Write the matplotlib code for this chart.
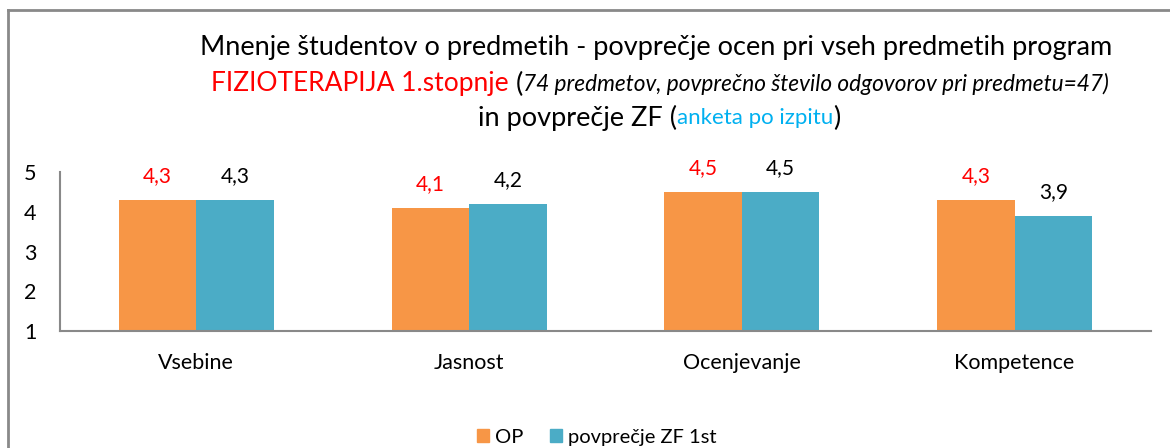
import matplotlib
matplotlib.use("Agg")
import matplotlib.pyplot as plt
import numpy as np
from matplotlib.lines import Line2D
from matplotlib.patches import Patch

# Podatki
kategorije = ["Vsebine", "Jasnost", "Ocenjevanje", "Kompetence"]
op = [4.3, 4.1, 4.5, 4.3]
zf = [4.3, 4.2, 4.5, 3.9]
serije = ["OP", "povprečje ZF 1st"]

ORANZNA = "#F79646"
MODRA = "#4BACC6"
SIVA = "#898989"

plt.rcParams["font.family"] = ["Lato", "DejaVu Sans"]

W, H = 1170, 448
fig = plt.figure(figsize=(W / 100, H / 100), dpi=100)


def fx(px):
    return px / W


def fy(py):
    return 1 - py / H


# okvir (zgoraj in levo)
fig.add_artist(Line2D([fx(8), fx(1170)], [fy(10), fy(10)], color=SIVA, lw=2))
fig.add_artist(Line2D([fx(8), fx(8)], [fy(10), fy(448)], color=SIVA, lw=2))

ax = fig.add_axes([fx(60), fy(331), fx(1151) - fx(60), fy(172) - fy(331)])

x = np.arange(len(kategorije))
w = 0.284
ax.bar(x - w / 2, np.array(op) - 1, w, bottom=1, color=ORANZNA, label=serije[0])
ax.bar(x + w / 2, np.array(zf) - 1, w, bottom=1, color=MODRA, label=serije[1])

for i in range(len(kategorije)):
    ax.annotate(f"{op[i]:.1f}".replace(".", ","), (x[i] - w / 2, op[i]),
                xytext=(0, 10), textcoords="offset points", ha="center",
                va="bottom", fontsize=15, color="red")
    ax.annotate(f"{zf[i]:.1f}".replace(".", ","), (x[i] + w / 2, zf[i]),
                xytext=(0, 10), textcoords="offset points", ha="center",
                va="bottom", fontsize=15, color="black")

ax.set_xlim(-0.5, 3.5)
ax.set_ylim(1, 5)
ax.set_yticks([1, 2, 3, 4, 5])
ax.set_xticks(x)
ax.set_xticklabels(kategorije)
ax.tick_params(axis="both", length=0, labelsize=15.5)
ax.tick_params(axis="y", pad=17)
ax.tick_params(axis="x", pad=16)
for s in ["top", "right"]:
    ax.spines[s].set_visible(False)
ax.spines["left"].set_color(SIVA)
ax.spines["bottom"].set_color(SIVA)
ax.spines["left"].set_linewidth(1.5)
ax.spines["bottom"].set_linewidth(1.5)

# naslov v več barvah
renderer = fig.canvas.get_renderer()


def vrstica(deli, cx, cy):
    teksti = []
    for besedilo, barva, velikost, stil in deli:
        t = fig.text(0, fy(cy), besedilo, color=barva, fontsize=velikost,
                     style=stil, va="center", ha="left")
        teksti.append(t)
    sirine = [t.get_window_extent(renderer).width for t in teksti]
    zacetek = cx - sum(sirine) / 2
    for t, s in zip(teksti, sirine):
        t.set_x(fx(zacetek))
        zacetek += s


vrstica([("Mnenje študentov o predmetih - povprečje ocen pri vseh predmetih program",
          "black", 19.5, "normal")], 656, 47)
vrstica([("FIZIOTERAPIJA 1.stopnje", "red", 19, "normal"),
         (" (", "black", 19.5, "normal"),
         ("74 predmetov, povprečno število odgovorov pri predmetu=47)", "black", 16.3, "italic")],
        660, 84)
vrstica([("in povprečje ZF (", "black", 19.5, "normal"),
         ("anketa po izpitu", "#00B0F0", 16, "normal"),
         (")", "black", 19.5, "normal")], 659, 118)

fig.legend(handles=[Patch(color=ORANZNA, label=serije[0]),
                    Patch(color=MODRA, label=serije[1])],
           loc="center", bbox_to_anchor=(fx(597), fy(437)), ncol=2,
           frameon=False, fontsize=14.5, handlelength=0.6, handleheight=0.6,
           handletextpad=0.3, columnspacing=1.3)

fig.savefig("out.png", dpi=100)
